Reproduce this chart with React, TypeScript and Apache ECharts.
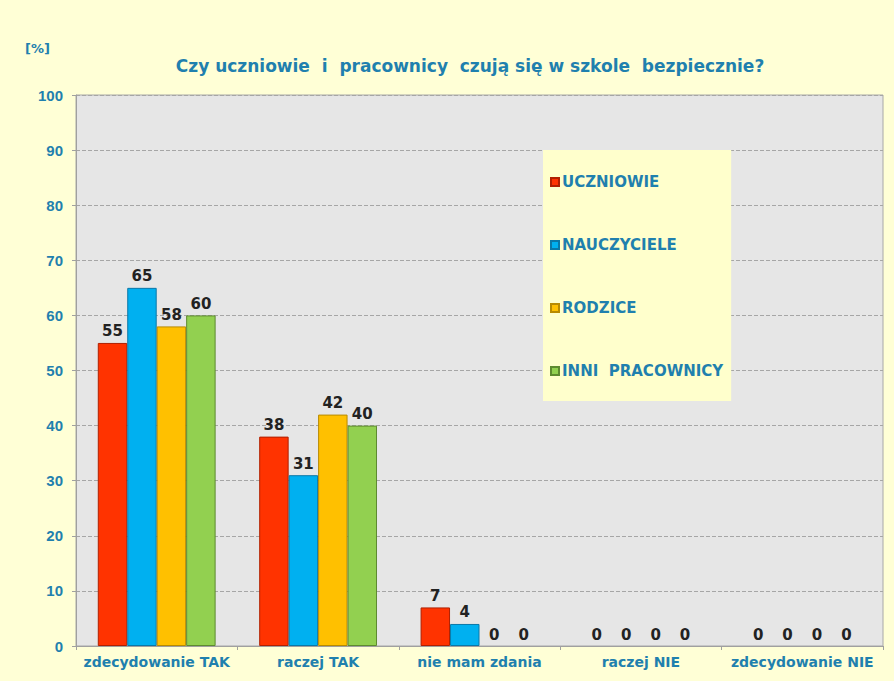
import React, { useEffect, useRef } from "react";
import * as echarts from "echarts";

const categories = ["zdecydowanie TAK", "raczej TAK", "nie mam zdania", "raczej NIE", "zdecydowanie NIE"];
const uczniowie = [55, 38, 7, 0, 0];
const nauczyciele = [65, 31, 4, 0, 0];
const rodzice = [58, 42, 0, 0, 0];
const inniPracownicy = [60, 40, 0, 0, 0];
const seriesNames = ["UCZNIOWIE", "NAUCZYCIELE", "RODZICE", "INNI  PRACOWNICY"];
const yTicks = [0, 10, 20, 30, 40, 50, 60, 70, 80, 90, 100];

const WIDE = "'DejaVu Sans', Verdana, sans-serif";
const ARIAL = "'Liberation Sans', Arial, sans-serif";
const BLUE_TEXT = "#1F80AE";

export default function App() {
  const ref = useRef<HTMLDivElement>(null);
  useEffect(() => {
    if (!ref.current) return;
    const chart = echarts.init(ref.current, undefined, { renderer: "svg" });
    const colors = ["#FF3300", "#00B0F0", "#FFC000", "#92D050"];
    const borders = ["#B02000", "#0A78A8", "#B88A00", "#5E8A30"];
    const data = [uczniowie, nauczyciele, rodzice, inniPracownicy];
    chart.setOption({
      animation: false,
      backgroundColor: "#FFFFD6",
      title: [
        {
          text: "Czy uczniowie  i  pracownicy  czują się w szkole  bezpiecznie?",
          left: 465,
          textAlign: "center",
          top: 52,
          textStyle: { fontFamily: WIDE, fontSize: 17, fontWeight: "bold", color: BLUE_TEXT },
        },
        {
          text: "[%]",
          left: 20,
          top: 37,
          textStyle: { fontFamily: WIDE, fontSize: 13, fontWeight: "bold", color: BLUE_TEXT },
        },
      ],
      legend: {
        orient: "vertical",
        left: 543,
        top: 150,
        padding: [24, 8, 22, 7],
        backgroundColor: "#FFFFCC",
        itemGap: 47,
        itemWidth: 8,
        itemHeight: 8,
        icon: "rect",
        data: seriesNames,
        textStyle: {
          fontFamily: WIDE,
          fontSize: 15,
          lineHeight: 16,
          fontWeight: "bold",
          color: BLUE_TEXT,
          padding: [0, 0, 0, -2],
        },
      },
      grid: {
        show: true,
        left: 76,
        right: 11,
        top: 95,
        bottom: 35,
        backgroundColor: "#E6E6E6",
        borderColor: "#A8A8A8",
        borderWidth: 1,
      },
      xAxis: {
        type: "category",
        data: categories,
        axisLine: { lineStyle: { color: "#A0A0A0" } },
        axisTick: { show: true, length: 4, lineStyle: { color: "#A0A0A0" } },
        axisLabel: {
          interval: 0,
          hideOverlap: false,
          fontFamily: WIDE,
          fontSize: 14,
          fontWeight: "bold",
          color: BLUE_TEXT,
          margin: 9,
        },
      },
      yAxis: {
        type: "value",
        min: 0,
        max: 100,
        interval: 10,
        axisLine: { show: true, lineStyle: { color: "#A0A0A0" } },
        axisTick: { show: true, length: 4, lineStyle: { color: "#A0A0A0" } },
        axisLabel: {
          fontFamily: ARIAL,
          fontSize: 15,
          fontWeight: "bold",
          color: BLUE_TEXT,
          margin: 13,
          formatter: (v: number) => (yTicks.includes(v) ? String(v) : ""),
        },
        splitLine: { show: true, lineStyle: { color: "#A6A6A6", type: "dashed", width: 1 } },
      },
      series: seriesNames.map((name, i) => ({
        name,
        type: "bar",
        data: data[i].map((v) => ({
          value: v,
          itemStyle: v === 0 ? { borderWidth: 0 } : undefined,
        })),
        barGap: "0%",
        barCategoryGap: "27%",
        itemStyle: { color: colors[i], borderColor: borders[i], borderWidth: 1 },
        label: {
          show: true,
          position: "top",
          distance: 4,
          fontFamily: WIDE,
          fontSize: 15,
          fontWeight: "bold",
          color: "#222222",
        },
      })),
    });
    return () => chart.dispose();
  }, []);
  return (
    <div
      ref={ref}
      style={{ position: "fixed", left: 0, top: 0, width: 894, height: 681 }}
    />
  );
}
